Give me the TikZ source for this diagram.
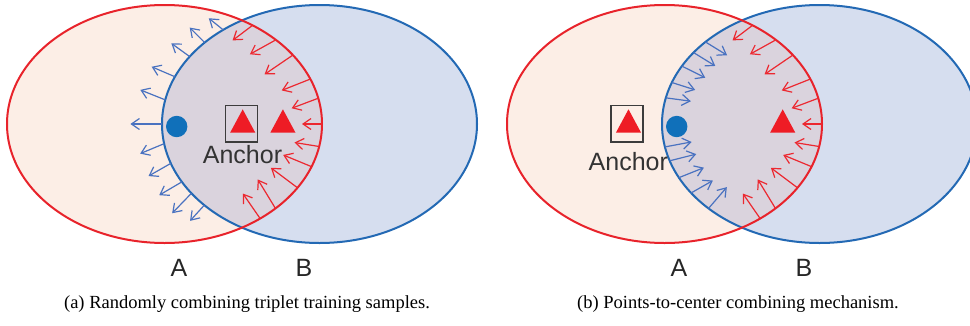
\documentclass[tikz,border=0pt]{standalone}
\usepackage{fontspec}
\setmainfont{Liberation Serif}
\newfontfamily\labelfont{Liberation Sans}
\usetikzlibrary{arrows.meta}

\definecolor{setred}{HTML}{E8232B}
\definecolor{setblue}{HTML}{2369B4}
\definecolor{fillred}{HTML}{FCEEE6}
\definecolor{fillblue}{HTML}{D6DEEF}
\definecolor{filllens}{HTML}{DAD3DD}
\definecolor{arrowblue}{HTML}{4A72C0}
\definecolor{arrowred}{HTML}{EC2830}
\definecolor{dotblue}{HTML}{1070BA}
\definecolor{trired}{HTML}{EE1C25}
\definecolor{boxgray}{HTML}{3C3C3C}
\definecolor{textgray}{HTML}{333333}

\begin{document}
\begin{tikzpicture}[x=1pt,y=-1pt,
    setline/.style={line width=2pt},
    bluearrow/.style={arrowblue,line width=1.2pt,-{Straight Barb[length=8pt,width=11pt]}},
    redarrow/.style={arrowred,line width=1.2pt,-{Straight Barb[length=8pt,width=11pt]}},
    anchorbox/.style={draw=boxgray,line width=1.4pt,minimum width=32pt,minimum height=36.5pt,inner sep=0pt},
    sample/.style={circle,fill=dotblue,minimum size=21.4pt,inner sep=0pt},
    anchortext/.style={font=\labelfont\fontsize{25}{25}\selectfont,text=textgray,anchor=base},
    setname/.style={font=\labelfont\fontsize{25}{25}\selectfont,text=black!85,anchor=base},
    caption/.style={font=\fontsize{18.5}{20}\selectfont,anchor=base}]
    \useasboundingbox (0,0) rectangle (970,325);

    % centres of the two sets in both panels
    \coordinate (Aa) at (164.5,124);
    \coordinate (Ba) at (319.5,124);
    \coordinate (Ab) at (664.5,124);
    \coordinate (Bb) at (819.5,124);

    % sets and their overlap
    \foreach \p in {a,b} {
        \fill[fillred]  (A\p) ellipse [x radius=157.5, y radius=119];
        \fill[fillblue] (B\p) ellipse [x radius=157.5, y radius=119];
        \begin{scope}
            \clip (A\p) ellipse [x radius=157.5, y radius=119];
            \fill[filllens] (B\p) ellipse [x radius=157.5, y radius=119];
        \end{scope}
        \draw[setline,setblue] (B\p) ellipse [x radius=157.5, y radius=119];
        \draw[setline,setred]  (A\p) ellipse [x radius=157.5, y radius=119];
    }

    % red arrows, same in both panels
    \foreach \p in {a,b} {
        \foreach \t/\d/\l in {304/143/25, 315/151/29.7, 324.6/145.7/34.3, 337.8/158.3/30.8,
                              347.5/159.4/28.4, 0/180/20, 10.9/189.2/25, 21/202.4/30.7,
                              32.4/216.9/33.3, 45.2/238.6/34, 52.6/235.3/30.4} {
            \path (A\p) ++(\t:157.5 and 119) coordinate (tl);
            \draw[redarrow] (tl) -- ++(\d:\l);
        }
    }

    % (a) blue arrows pushed out of B
    \foreach \t/\d/\l in {232.3/218.9/18.5, 223.2/225/21.2, 214.5/215.9/22.7, 203.4/203.2/25.4,
                          191.7/201.8/26.9, 180/180/31.6, 170.5/157.4/26, 160.7/150.3/25.7,
                          150.9/149.6/26.3, 144.4/134/27.8, 137/132.3/21.2} {
        \path (Ba) ++(\t:157.5 and 119) coordinate (tl);
        \draw[bluearrow] (tl) -- ++(\d:\l);
    }

    % (b) blue arrows pulled into B
    \foreach \t/\d/\l in {223.6/31.6/25.4, 216.9/31.7/25.5, 209.1/26.4/26.1, 200.4/17.6/24.4,
                          192.7/7.7/25.2, 168.9/-10.6/27.1, 162/-14.1/27.4, 153.2/-21.8/26.9,
                          144.6/-29.7/25, 134.8/-49.3/28.1} {
        \path (Bb) ++(\t:157.5 and 119) coordinate (tl);
        \draw[bluearrow] (tl) -- ++(\d:\l);
    }

    % (a) samples
    \node[sample] (dota) at (176.7,126.5) {};
    \node[anchorbox] (boxa) at (241.2,123.7) {};
    \fill[trired] (242.7,109.3) -- ++(12.6,23.4) -- ++(-25.2,0) -- cycle;
    \fill[trired] (282.9,109.3) -- ++(12.6,23.4) -- ++(-25.2,0) -- cycle;
    \node[anchortext] (anchora) at (242.5,163.3) {Anchor};

    % (b) samples
    \node[sample] (dotb) at (676.7,126.5) {};
    \node[anchorbox] (boxb) at (627,123.7) {};
    \fill[trired] (628.5,109.3) -- ++(12.6,23.4) -- ++(-25.2,0) -- cycle;
    \fill[trired] (782.7,109.3) -- ++(12.6,23.4) -- ++(-25.2,0) -- cycle;
    \node[anchortext] (anchorb) at (628.3,170.7) {Anchor};

    % set names
    \node[setname] (namea1) at (179,276) {A};
    \node[setname] (nameb1) at (304,276) {B};
    \node[setname] (namea2) at (679,276) {A};
    \node[setname] (nameb2) at (804,276) {B};

    % captions
    \node[caption] (capa) at (247,308) {(a) Randomly combining triplet training samples.};
    \node[caption] (capb) at (738,308) {(b) Points-to-center combining mechanism.};
\end{tikzpicture}
\end{document}
